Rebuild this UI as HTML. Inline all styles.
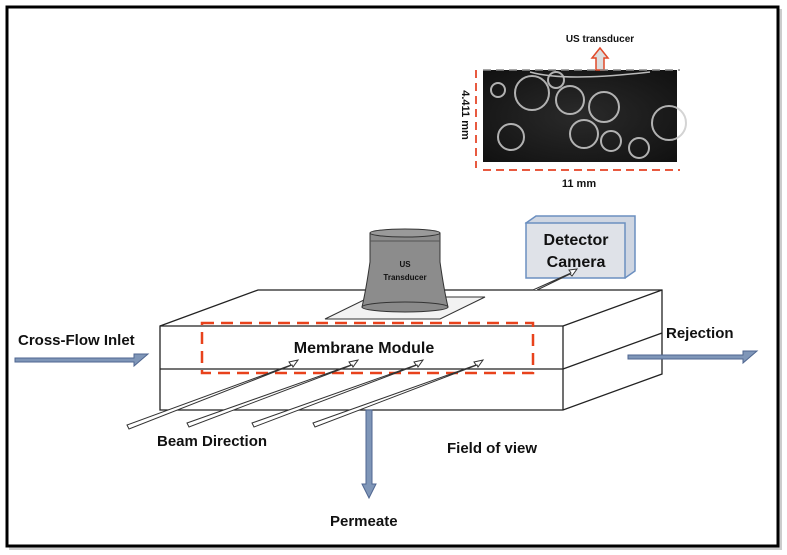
<!DOCTYPE html>
<html><head><style>
body{margin:0;background:#fff;width:787px;height:555px;overflow:hidden}
svg{display:block}
text{font-family:"Liberation Sans",sans-serif;font-weight:bold;fill:#111}
</style></head><body>
<svg width="787" height="555" viewBox="0 0 787 555">
<defs>
<radialGradient id="g" cx="0.5" cy="0.5" r="0.7"><stop offset="0" stop-color="#2a2a2a"/><stop offset="1" stop-color="#111"/></radialGradient>
</defs>
<rect x="9" y="9" width="773" height="541" fill="#999" opacity="0.5"/>
<rect x="7" y="7" width="771" height="539" fill="#fff" stroke="#000" stroke-width="3"/>
<!-- inset -->
<text x="600" y="42" font-size="10" text-anchor="middle">US transducer</text>
<rect x="483" y="70" width="194" height="92" fill="url(#g)"/>
<g fill="none" stroke="#ccc" stroke-width="2" opacity="0.85">
<circle cx="532" cy="93" r="17"/><circle cx="570" cy="100" r="14"/><circle cx="604" cy="107" r="15"/>
<circle cx="511" cy="137" r="13"/><circle cx="584" cy="134" r="14"/><circle cx="611" cy="141" r="10"/>
<circle cx="639" cy="148" r="10"/><circle cx="669" cy="123" r="17"/><circle cx="498" cy="90" r="7"/>
<circle cx="556" cy="80" r="8"/>
</g>
<path d="M530 72 Q565 82 650 72" stroke="#bbb" fill="none" stroke-width="1.5"/>
<path d="M596 70 V58 H592 L600 48 L608 58 H604 V70 Z" fill="#ddd" stroke="#e04a2a" stroke-width="1.5"/>
<line x1="476" y1="70" x2="476" y2="168" stroke="#e85a40" stroke-width="2" stroke-dasharray="8,5"/>
<line x1="483" y1="170" x2="680" y2="170" stroke="#e85a40" stroke-width="2" stroke-dasharray="8,5"/>
<line x1="483" y1="70" x2="680" y2="70" stroke="#888" stroke-width="1.5" stroke-dasharray="8,5"/>
<text x="579" y="187" font-size="11" text-anchor="middle">11 mm</text>
<text transform="translate(462,115) rotate(90)" font-size="11" text-anchor="middle">4.411 mm</text>
<!-- box -->
<g fill="none" stroke="#222" stroke-width="1.3">
<path d="M160 326 L258 290 L662 290 L662 374 L563 410 L160 410 Z" fill="#fff"/>
<line x1="160" y1="326" x2="563" y2="326"/>
<line x1="563" y1="326" x2="662" y2="290"/>
<line x1="563" y1="326" x2="563" y2="410"/>
<line x1="160" y1="369" x2="563" y2="369"/>
<line x1="563" y1="369" x2="662" y2="333"/>
</g>
<!-- plate -->
<path d="M325 319 L440 319 L485 297 L370 297 Z" fill="#f2f2f2" stroke="#333" stroke-width="1"/>
<!-- transducer -->
<path d="M370 233 L370 262 Q366 290 362 307 L448 307 Q444 290 440 262 L440 233 Z" fill="#8c8c8c" stroke="#333"/>
<ellipse cx="405" cy="307" rx="43" ry="5" fill="#8a8a8a" stroke="#333"/>
<ellipse cx="405" cy="233" rx="35" ry="4" fill="#9a9a9a" stroke="#333"/>
<line x1="370" y1="241" x2="440" y2="241" stroke="#555"/>
<text x="405" y="267" font-size="8" text-anchor="middle" fill="#111">US</text>
<text x="405" y="280" font-size="8" text-anchor="middle" fill="#111">Transducer</text>
<!-- camera -->
<path d="M526 223 L536 216 L635 216 L635 271 L625 278 Z" fill="#cfd6e2" stroke="#6b8fc0" stroke-width="1.5"/>
<rect x="526" y="223" width="99" height="55" fill="#dfe2e8" stroke="#6b8fc0" stroke-width="1.5"/>
<text x="576" y="245" font-size="16" text-anchor="middle">Detector</text>
<text x="576" y="267" font-size="16" text-anchor="middle">Camera</text>
<path d="M533 290 L571 273 L569 270 L577 269 L572 276 L570 274 L537 290" fill="#fff" stroke="#333"/>
<!-- red dashed -->
<rect x="202" y="323" width="331" height="50" fill="none" stroke="#e8421c" stroke-width="2.5" stroke-dasharray="12,7"/>
<text x="364" y="353" font-size="16" text-anchor="middle">Membrane Module</text>
<!-- beam arrows -->
<g fill="#fff" stroke="#333" stroke-width="1">
<path d="M127 425 L291 365 L289 362 L298 360 L293 367 L292 365 L129 429 Z"/>
<path d="M187 423 L351 365 L349 362 L358 360 L353 367 L352 365 L189 427 Z"/>
<path d="M252 423 L416 365 L414 362 L423 360 L418 367 L417 365 L254 427 Z"/>
<path d="M313 423 L476 365 L474 362 L483 360 L478 367 L477 365 L315 427 Z"/>
</g>
<!-- flow arrows -->
<g fill="#7f96b8" stroke="#4f6690" stroke-width="1">
<path d="M15 357 H134 V353 H148 L134 365 V361 H15 Z" transform="translate(0,1)"/>
<path d="M628 353 H743 V349 H757 L743 361 V357 H628 Z" transform="translate(0,2)"/>
<path d="M366 410 V484 H362 L369 498 L376 484 H372 V410 Z"/>
</g>
<text x="18" y="345" font-size="15">Cross-Flow Inlet</text>
<text x="666" y="338" font-size="15">Rejection</text>
<text x="157" y="446" font-size="15">Beam Direction</text>
<text x="447" y="453" font-size="15">Field of view</text>
<text x="330" y="526" font-size="15">Permeate</text>
</svg>
</body></html>
